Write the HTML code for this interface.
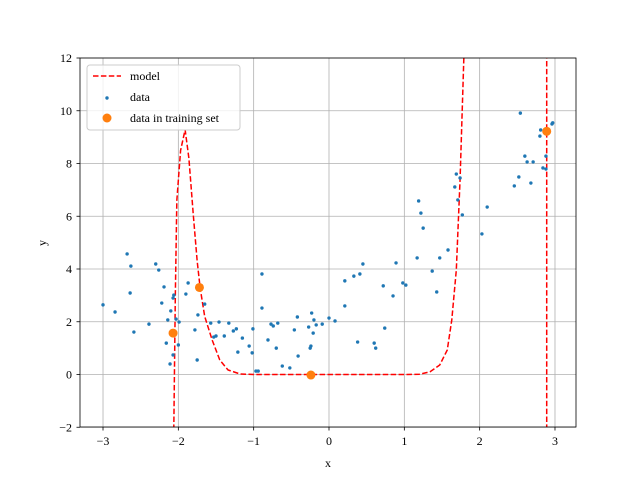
<!DOCTYPE html>
<html><head><meta charset="utf-8"><style>
body{margin:0;background:#fff}
svg text{font-family:"Liberation Serif",serif;font-size:12px;fill:#000}
</style></head><body>
<svg id="chart" width="640" height="480">
<defs><clipPath id="clip"><rect x="80" y="58" width="496" height="369"/></clipPath></defs>
<g id="grid"></g><g id="plot" clip-path="url(#clip)"></g><g id="axes"></g><g id="legend"></g>
</svg>
<script>
const xTicks=[-3,-2,-1,0,1,2,3];
const yTicks=[-2,0,2,4,6,8,10,12];
const modelX=[-2.07,-2.06,-2.04,-2.02,-1.97,-1.91,-1.86,-1.80,-1.75,-1.71,-1.65,-1.55,-1.45,-1.34,-1.18,-1.0,0,1.0,1.2,1.34,1.47,1.57,1.63,1.69,1.74,1.79,1.82];
const modelY=[-3,-2,3,6.6,8.5,9.28,8.2,6.0,4.3,3.27,2.2,1.3,0.55,0.17,0.02,0,0,0,0.01,0.1,0.36,0.93,2.07,3.96,7.4,12,14];
const model2X=[2.89,2.89];
const model2Y=[-3,14];
const dataPx=[[103,305],[115,312],[127,254],[131,266],[130,293],[134,332],[149,324],[156,264],[159,270],[162,303],[164,287],[166,343],[168,320],[170,364],[171,311],[173,298],[173,355],[174,295],[176,319],[178,345],[179,322],[186,294],[188,283],[195,330],[197,360],[198,315],[205,304],[211,323],[214,337],[216,336],[219,322],[224,336],[229,323],[233,331],[236,329],[238,352],[242,338],[249,346],[252,353],[253,329],[256,371],[262,274],[258,371],[262,308],[268,340],[271,324],[273,326],[276,348],[278,323],[282,366],[290,368],[294,330],[297,317],[298,356],[309,327],[310,348],[311,346],[312,313],[313,333],[314,320],[316,325],[322,324],[329,318],[335,321],[345,306],[345,281],[354,276],[358,342],[360,274],[363,264],[374,343],[376,348],[383,286],[385,328],[393,296],[396,263],[403,283],[406,285],[417,258],[419,201],[421,213],[423,228],[432,271],[437,292],[440,258],[448,250],[455,187],[456,174],[458,200],[460,178],[462,215],[482,234],[487,207],[514,186],[519,177],[520,113],[525,156],[527,162],[531,183],[533,162],[540,136],[543,168],[546,169],[546,156],[552,124],[541,130],[553,123]];
const dataX=dataPx.map(p=>+((p[0]-329)/75.33).toFixed(2));
const dataY=dataPx.map(p=>+((374.5-p[1])/26.375).toFixed(2));
const trainX=[-2.07,-1.72,-0.24,2.89];
const trainY=[1.57,3.3,-0.02,9.22];
const X=v=>329+v*75.33, Y=v=>374.5-v*26.375;
const NS='http://www.w3.org/2000/svg';
function mk(t,a,p){const e=document.createElementNS(NS,t);for(const k in a)e.setAttribute(k,a[k]);p.appendChild(e);return e;}
const grid=document.getElementById('grid'),plot=document.getElementById('plot'),axes=document.getElementById('axes'),leg=document.getElementById('legend');
xTicks.forEach(t=>{const l=mk('line',{x1:X(t),x2:X(t),y1:58,y2:427,stroke:'#b0b0b0','stroke-width':0.8},grid);

mk('line',{x1:X(t),x2:X(t),y1:427,y2:430.5,stroke:'#000','stroke-width':0.8},axes);
const tx=mk('text',{x:X(t),y:445,'text-anchor':'middle'},axes);tx.textContent=(t<0?'\u2212'+(-t):t);
});
yTicks.forEach(t=>{const l=mk('line',{x1:80,x2:576,y1:Y(t),y2:Y(t),stroke:'#b0b0b0','stroke-width':0.8},grid);

mk('line',{x1:76.5,x2:80,y1:Y(t),y2:Y(t),stroke:'#000','stroke-width':0.8},axes);
const tx=mk('text',{x:72,y:Y(t)+4,'text-anchor':'end'},axes);tx.textContent=(t<0?'\u2212'+(-t):t);
});
const pts=(xs,ys)=>xs.map((v,i)=>X(v)+','+Y(ys[i])).join(' ');
const m1=mk('polyline',{points:pts(modelX,modelY),fill:'none',stroke:'#ff0000','stroke-width':1.5,'stroke-dasharray':'5.5,2.4'},plot);

const m2=mk('polyline',{points:pts(model2X,model2Y),fill:'none',stroke:'#ff0000','stroke-width':1.5,'stroke-dasharray':'5.5,2.4'},plot);

dataX.forEach((v,i)=>{const c=mk('circle',{cx:X(v),cy:Y(dataY[i]),r:1.7,fill:'#1f77b4'},plot);
});
trainX.forEach((v,i)=>{const c=mk('circle',{cx:X(v),cy:Y(trainY[i]),r:4.5,fill:'#ff7f0e'},plot);
});
const fr=mk('rect',{x:80,y:58,width:496,height:369,fill:'none',stroke:'#000','stroke-width':0.8},axes);

const xl=mk('text',{x:328,y:467,'text-anchor':'middle'},axes);xl.textContent='x';

const yl=mk('text',{x:46,y:243,'text-anchor':'middle',transform:'rotate(-90 46 243)'},axes);yl.textContent='y';

const lb=mk('rect',{x:87,y:65,width:153,height:65,rx:3,fill:'#fff','fill-opacity':0.8,stroke:'#ccc','stroke-width':1},leg);

const e1=mk('line',{x1:93,x2:121,y1:76,y2:76,stroke:'#ff0000','stroke-width':1.5,'stroke-dasharray':'5.5,2.4'},leg);

const e2=mk('circle',{cx:107,cy:98,r:1.7,fill:'#1f77b4'},leg);

const e3=mk('circle',{cx:107,cy:118,r:4.5,fill:'#ff7f0e'},leg);

[['model',80],['data',101],['data in training set',122]].forEach(([s,y])=>{const t=mk('text',{x:130,y:y},leg);t.textContent=s;
});
</script>
</body></html>
